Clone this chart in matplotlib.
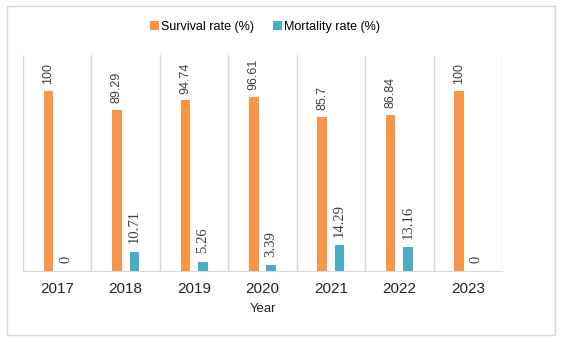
import numpy as np
import matplotlib.pyplot as plt
from matplotlib.patches import Rectangle

years = ["2017", "2018", "2019", "2020", "2021", "2022", "2023"]
survival = [100, 89.29, 94.74, 96.61, 85.7, 86.84, 100]
mortality = [0, 10.71, 5.26, 3.39, 14.29, 13.16, 0]
survival_labels = ["100", "89.29", "94.74", "96.61", "85.7", "86.84", "100"]
mortality_labels = ["0", "10.71", "5.26", "3.39", "14.29", "13.16", "0"]

orange = "#F79646"
blue = "#4BACC6"

fig = plt.figure(figsize=(5.62, 3.42), dpi=100)
fig.patches.append(Rectangle((7 / 562, 1 - 335 / 342), 548 / 562, 329 / 342,
                             transform=fig.transFigure, fill=False,
                             edgecolor="#D9D9D9", linewidth=1))
ax = fig.add_axes([23 / 562, 1 - 271 / 342, 479 / 562, 216 / 342])

x = np.arange(len(years))
off = 0.127
w = 0.14
b1 = ax.bar(x - off, survival, w, color=orange, label="Survival rate (%)", zorder=3)
b2 = ax.bar(x + off, mortality, w, color=blue, label="Mortality rate (%)", zorder=3)

for xi, v, s in zip(x, survival, survival_labels):
    ax.annotate(s, (xi - off, v), xytext=(0, 5), textcoords="offset points",
                rotation=90, ha="center", va="bottom", fontsize=9,
                family="Liberation Sans", color="#404040")
for xi, v, s in zip(x, mortality, mortality_labels):
    ax.annotate(s, (xi + off, v), xytext=(0, 6), textcoords="offset points",
                rotation=90, ha="center", va="bottom", fontsize=10.5,
                family="Liberation Serif", color="#404040")

for i in range(len(years) + 1):
    ax.axvline(i - 0.5, color="#D9D9D9", linewidth=1, zorder=1)

ax.set_xlim(-0.5, len(years) - 0.5)
ax.set_ylim(0, 120)
ax.set_xticks(x)
ax.set_xticklabels(years, fontsize=11, family="Liberation Sans", color="#262626")
ax.tick_params(axis="x", length=0, pad=8)
ax.set_yticks([])
for side in ["left", "right", "top"]:
    ax.spines[side].set_visible(False)
ax.spines["bottom"].set_color("#D9D9D9")
ax.spines["bottom"].set_zorder(4)
ax.set_xlabel("Year", fontsize=9.5, family="Liberation Sans", color="#262626", labelpad=5)

fig.legend(handles=[b1, b2], loc="center", bbox_to_anchor=(265 / 562, 1 - 27 / 342),
           ncol=2, frameon=False, prop={"family": "Liberation Sans", "size": 9},
           handlelength=0.7, handleheight=0.7, handletextpad=0.2, columnspacing=1.5)

fig.savefig("out.png", dpi=100)
